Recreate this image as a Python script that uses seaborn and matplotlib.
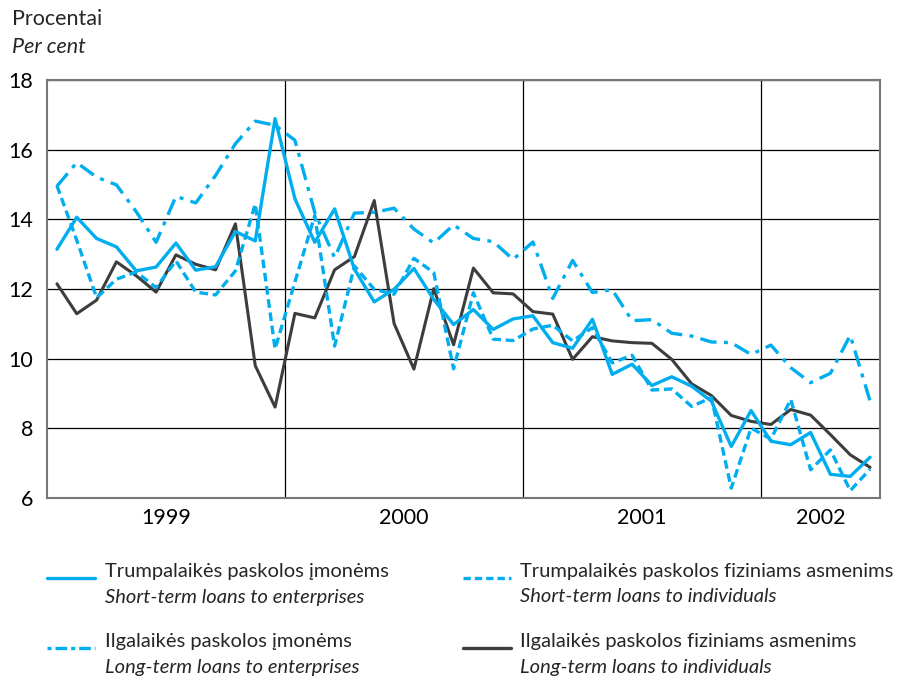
import numpy as np
import pandas as pd
import seaborn as sns
import matplotlib.pyplot as plt
from matplotlib.lines import Line2D


sns.set_style('white')
plt.rcParams['font.family'] = ['Lato', 'DejaVu Sans']

# monthly observations, Jan 1999 - Jun 2002
month = np.arange(42) + 0.5

short_ent = [13.14, 14.06, 13.45, 13.21, 12.52, 12.63, 13.32, 12.54, 12.64, 13.65, 13.38, 16.89,
             14.59, 13.34, 14.30, 12.57, 11.63, 11.99, 12.59, 11.70, 10.98, 11.41, 10.84, 11.14,
             11.23, 10.46, 10.30, 11.13, 9.55, 9.84, 9.23, 9.48, 9.21, 8.78, 7.48, 8.51,
             7.63, 7.53, 7.88, 6.68, 6.62, 7.17]
short_ind = [14.97, 13.40, 11.75, 12.28, 12.49, 12.04, 12.81, 11.91, 11.83, 12.52, 14.44, 10.28,
             12.20, 14.11, 10.36, 12.66, 11.99, 11.85, 12.88, 12.47, 9.71, 11.89, 10.56, 10.52,
             10.85, 10.96, 10.51, 10.89, 9.88, 10.10, 9.10, 9.13, 8.63, 8.88, 6.28, 8.01,
             7.69, 8.83, 6.81, 7.38, 6.21, 6.83]
long_ent = [14.95, 15.63, 15.21, 14.99, 14.22, 13.34, 14.66, 14.47, 15.26, 16.17, 16.82, 16.70,
            16.27, 14.20, 12.90, 14.18, 14.20, 14.32, 13.72, 13.32, 13.84, 13.45, 13.36, 12.85,
            13.35, 11.73, 12.82, 11.90, 11.98, 11.09, 11.12, 10.73, 10.65, 10.48, 10.46, 10.12,
            10.39, 9.74, 9.31, 9.58, 10.67, 8.78]
long_ind = [12.15, 11.29, 11.68, 12.78, 12.38, 11.91, 12.98, 12.71, 12.55, 13.87, 9.80, 8.61,
            11.30, 11.17, 12.55, 12.93, 14.54, 11.01, 9.70, 12.01, 10.40, 12.60, 11.89, 11.86,
            11.35, 11.28, 9.98, 10.63, 10.51, 10.46, 10.44, 9.98, 9.28, 8.94, 8.37, 8.20,
            8.11, 8.54, 8.38, 7.82, 7.24, 6.88]

years = ['1999', '2000', '2001', '2002']
year_mid = [6, 18, 30, 39]
year_breaks = [12, 24, 36]

cyan = '#00aeef'
dark = '#3d3d3d'
fs = 15.5
fs_leg = 14.5

df = pd.DataFrame({'month': month, 'short_ent': short_ent, 'short_ind': short_ind,
                   'long_ent': long_ent, 'long_ind': long_ind})

fig = plt.figure(figsize=(9.16, 6.8), dpi=100)
ax = fig.add_axes([47 / 916, 1 - 498 / 680, (880 - 47) / 916, (498 - 80) / 680])

sns.lineplot(data=df, x='month', y='long_ind', ax=ax, color=dark, lw=2.2)
sns.lineplot(data=df, x='month', y='long_ent', ax=ax, color=cyan, lw=2.4,
             dashes=False, linestyle=(0, (5, 2.2, 1.2, 2.2)))
sns.lineplot(data=df, x='month', y='short_ind', ax=ax, color=cyan, lw=2.4, linestyle=(0, (2.6, 1.4)))
sns.lineplot(data=df, x='month', y='short_ent', ax=ax, color=cyan, lw=2.4)

ax.set_xlim(0, 42)
ax.set_ylim(6, 18)
ax.set_yticks(range(6, 19, 2))
ax.set_xticks(year_breaks)
ax.set_xticklabels([])
ax.set_xticks(year_mid, minor=True)
ax.set_xticklabels(years, minor=True)
ax.tick_params(axis='both', which='both', length=0, labelsize=fs, colors='black')
ax.tick_params(axis='y', pad=10)
ax.tick_params(axis='x', which='minor', pad=7)
ax.grid(True, which='major', color='black', lw=0.9)
ax.set_xlabel('')
ax.set_ylabel('')
for s in ax.spines.values():
    s.set_color('#777777')
    s.set_linewidth(1.5)

fig.text(12 / 916, 1 - 19 / 680, 'Procentai', fontsize=fs, va='center')
fig.text(12 / 916, 1 - 47 / 680, 'Per cent', fontsize=fs, style='italic', va='center')

# legend drawn below the axes
legend_items = [
    (47, 105, 578, 'Trumpalaikės paskolos įmonėms', 'Short-term loans to enterprises', cyan, '-'),
    (463, 520, 578, 'Trumpalaikės paskolos fiziniams asmenims', 'Short-term loans to individuals',
     cyan, (0, (2.2, 1.2))),
    (47, 105, 648, 'Ilgalaikės paskolos įmonėms', 'Long-term loans to enterprises',
     cyan, (0, (1.2, 1.2, 3.5, 1.2))),
    (463, 520, 648, 'Ilgalaikės paskolos fiziniams asmenims', 'Long-term loans to individuals', dark, '-'),
]
for x0, xt, yl, lt, en, col, ls in legend_items:
    fig.add_artist(Line2D([x0 / 916, (x0 + 48) / 916], [1 - yl / 680] * 2, color=col, lw=2.4,
                          linestyle=ls, transform=fig.transFigure))
    fig.text(xt / 916, 1 - (yl - 6) / 680, lt, fontsize=fs_leg, va='center')
    fig.text(xt / 916, 1 - (yl + 19) / 680, en, fontsize=fs_leg, style='italic', va='center')

fig.savefig('out.png', dpi=100)
